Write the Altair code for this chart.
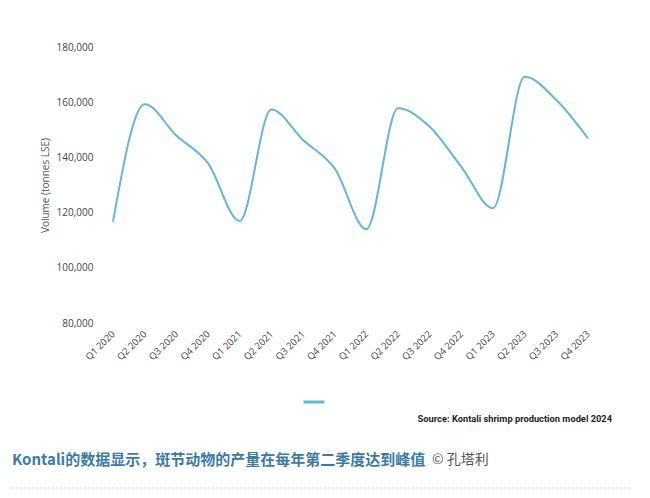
import altair as alt
import pandas as pd

quarters = ["Q1 2020", "Q2 2020", "Q3 2020", "Q4 2020",
            "Q1 2021", "Q2 2021", "Q3 2021", "Q4 2021",
            "Q1 2022", "Q2 2022", "Q3 2022", "Q4 2022",
            "Q1 2023", "Q2 2023", "Q3 2023", "Q4 2023"]
volume = [116700, 159300, 147900, 137900,
          117000, 157400, 146300, 136000,
          114000, 157800, 151100, 136600,
          121600, 169200, 160800, 146900]
series_name = [""] * len(quarters)

y_title = "Volume (tonnes LSE)"
y_ticks = [80000, 100000, 120000, 140000, 160000, 180000]
source_text = "Source: Kontali shrimp production model 2024"
caption_text = "Kontali的数据显示，斑节动物的产量在每年第二季度达到峰值"
credit_text = "© 孔塔利"

df = pd.DataFrame({"quarter": quarters, "volume": volume, "series": series_name})

W, H = 475, 276
PL, PT = 105, 39

line = alt.Chart(df).mark_line(interpolate="monotone", strokeWidth=2).encode(
    x=alt.X("quarter:N", sort=quarters, title=None,
            scale=alt.Scale(type="point", padding=0),
            axis=alt.Axis(labelAngle=-45, labelAlign="right", labelBaseline="middle",
                          labelPadding=9, ticks=False, domain=False, grid=False,
                          labelFont="Open Sans", labelFontSize=9.5, labelColor="#444")),
    y=alt.Y("volume:Q", title=y_title,
            scale=alt.Scale(domain=[80000, 180000], nice=False, zero=False),
            axis=alt.Axis(values=y_ticks, format=",.0f", ticks=False, domain=False, grid=False,
                          labelPadding=20, labelFont="Open Sans", labelFontSize=10,
                          labelColor="#444", titleFont="Open Sans", titleFontSize=10,
                          titleFontWeight="normal", titleColor="#555", titlePadding=6)),
    color=alt.Color("series:N", scale=alt.Scale(range=["#66b3dc"]),
                    legend=alt.Legend(title=None, orient="none", legendX=189, legendY=343,
                                      symbolType="stroke", symbolSize=441,
                                      symbolStrokeWidth=3, labelFontSize=1, padding=0)),
)

ann_df = pd.DataFrame({"t": [source_text]})
source = alt.Chart(ann_df).mark_text(
    align="right", baseline="middle", font="Roboto", fontSize=9.3,
    fontWeight="bold", color="#222").encode(
    text="t:N", x=alt.value(499), y=alt.value(372))

cap_df = pd.DataFrame({"t": [caption_text]})
caption = alt.Chart(cap_df).mark_text(
    align="left", baseline="middle", font="Noto Sans CJK SC", fontSize=15,
    fontWeight="bold", color="#3b7aa6").encode(
    text="t:N", x=alt.value(-101), y=alt.value(413))

cred_df = pd.DataFrame({"t": [credit_text]})
credit = alt.Chart(cred_df).mark_text(
    align="left", baseline="middle", font="Noto Sans CJK SC", fontSize=14,
    color="#555").encode(
    text="t:N", x=alt.value(319), y=alt.value(413))

dots = alt.Chart(cap_df).mark_rule(color="#cccccc", strokeDash=[2, 2], strokeWidth=1).encode(
    x=alt.value(-101), x2=alt.value(519), y=alt.value(441))

chart = alt.layer(line, source, caption, credit, dots).properties(
    width=W, height=H,
    background="white",
    autosize=alt.AutoSizeParams(type="none"),
    padding={"left": PL, "top": PT, "right": 634 - PL - W, "bottom": 482 - PT - H},
).configure_view(strokeWidth=0, stroke=None)

chart.save("out.html", embed_options={"renderer": "svg", "actions": False})
